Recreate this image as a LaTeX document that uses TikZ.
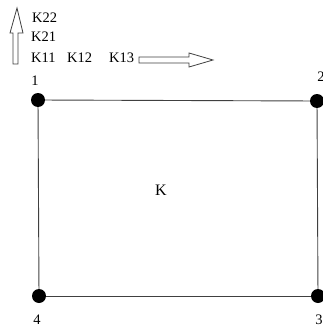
\documentclass[tikz,border=0pt]{standalone}
\usepackage{fontspec}
\setmainfont{Liberation Serif}
\begin{document}
\begin{tikzpicture}[x=1pt,y=-1pt,
  lbl/.style={font=\fontsize{14.5}{16}\selectfont,inner sep=0pt,text=black},
  dot/.style={circle,fill=black,inner sep=0pt,minimum size=14pt},
  edge/.style={draw=black!75,line width=0.9pt},
  blockarrow/.style={draw=black!75,line width=0.8pt,fill=white}]
\useasboundingbox (0,0) rectangle (322,329);
% nodes
\node[dot] (n1) at (38,100) {};
\node[dot] (n2) at (317,101) {};
\node[dot] (n3) at (318,296) {};
\node[dot] (n4) at (39,296) {};
\draw[edge] (n1) -- (n2);
\draw[edge] (n2) -- (n3);
\draw[edge] (n3) -- (n4);
\draw[edge] (n4) -- (n1);
\node[lbl] (l1) at (35,81) {1};
\node[lbl] (l2) at (321,77) {2};
\node[lbl] (l3) at (319,320) {3};
\node[lbl] (l4) at (37,320) {4};
\node[lbl,font=\fontsize{16}{18}\selectfont] (k) at (161,190) {K};
% labels
\node[lbl,anchor=west] (k22) at (32,18) {K22};
\node[lbl,anchor=west] (k21) at (31,37) {K21};
\node[lbl,anchor=west] (k11) at (31,58) {K11};
\node[lbl,anchor=west] (k12) at (67,58) {K12};
\node[lbl,anchor=west] (k13) at (109,58) {K13};
% block arrows
\draw[blockarrow] (13,64) -- (13,33) -- (10,33) -- (17,8) -- (23,33) -- (18,33) -- (18,64) -- cycle;
\draw[blockarrow] (139,57) -- (189,57) -- (189,53) -- (213,60) -- (189,67) -- (189,63) -- (139,63) -- cycle;
\end{tikzpicture}
\end{document}
